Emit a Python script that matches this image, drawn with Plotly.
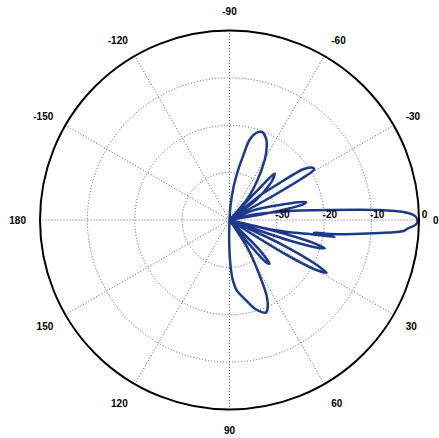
import plotly.graph_objects as go

# Radiation pattern samples: angle (deg) and normalised gain (dB)
theta_deg = [
    -180, -120, -95,
    # broad upper side lobe
    -90, -86, -83, -80, -78.5, -76, -73, -69.5, -65, -62, -59.5, -55, -50, -48,
    # narrow lobe near -46
    -47, -46.5, -46, -44, -41, -37, -35,
    # lobe near -31
    -40.5, -39, -36.5, -34.5, -32.5, -30.8, -29.8, -29, -28,
    # lobe near -13
    -24, -21.8, -16.7, -14.5, -13.2, -12, -11, -10, -9.5,
    # main beam
    -13, -12, -8.5, -5.7, -3.8, -2.6, -1.2, 0.3, 1.5, 2.6, 3.6, 5, 6.4, 8,
    # lobe near 9
    8.5, 9.2, 9.8, 11.5, 13, 14,
    # lobe near 16
    12, 14, 15.5, 16.5, 17.5, 19, 21,
    # lobe near 28
    22, 25, 27, 28.5, 30, 31.5, 34,
    # narrow lobe near 48
    40, 45, 47.5, 49, 51, 53,
    # broad lower side lobe
    53.5, 57, 61, 64, 66.5, 68.5, 71, 74, 79, 84, 87, 89, 91, 95,
    120, 180,
]
gain_db = [
    -40, -40, -40,
    -40, -37, -33, -29, -27, -22.6, -20.8, -20.2, -21.5, -23.4, -25.4, -29.7, -34, -40,
    -40, -29, -26.3, -27, -29, -33, -40,
    -40, -32, -27, -21, -19.4, -19.2, -22.5, -29, -40,
    -40, -34.3, -29, -25, -23.4, -24, -27, -33, -40,
    -40, -34, -27, -18.8, -8.4, -3.2, -0.8, -0.3, -0.7, -2.2, -3.2, -8.3, -13.5, -18.7,
    -22, -17.5, -22, -27, -31, -40,
    -40, -28, -21, -19, -20.5, -27, -40,
    -40, -28, -20, -16.7, -19, -26, -40,
    -40, -31, -27.5, -28, -34, -40,
    -40, -33, -27.5, -22, -19.8, -19, -19.5, -20.5, -23, -25, -27.5, -31, -36, -40,
    -40, -40,
]

angle_ticks = [0, 30, 60, 90, 120, 150, 180, 210, 240, 270, 300, 330]
angle_labels = ["0", "30", "60", "90", "120", "150", "180",
                "-150", "-120", "-90", "-60", "-30"]
radial_ticks = [-30, -20, -10, 0]
radial_labels = ["-30", "-20", "-10", "0"]

label_font = dict(family="Liberation Sans, Arial, sans-serif", size=10,
                  color="black", weight="bold")
pad = "\u00a0" * 4

fig = go.Figure(go.Scatterpolar(
    theta=theta_deg,
    r=gain_db,
    mode="lines",
    line=dict(color="#1d3a8a", width=2.5, shape="spline", smoothing=0.8),
    showlegend=False,
))

fig.update_layout(
    width=439,
    height=438,
    margin=dict(l=40, r=20, t=30, b=28),
    paper_bgcolor="white",
    polar=dict(
        bgcolor="white",
        angularaxis=dict(
            rotation=0,
            direction="clockwise",
            tickmode="array",
            tickvals=angle_ticks,
            ticktext=angle_labels,
            tickfont=label_font,
            ticks="outside",
            ticklen=11,
            tickcolor="rgba(0,0,0,0)",
            showline=True,
            linecolor="black",
            linewidth=2,
            showgrid=True,
            gridcolor="#585a6c",
            griddash="1px,2px",
            gridwidth=1,
        ),
        radialaxis=dict(
            range=[-40, 0],
            angle=0,
            side="counterclockwise",
            tickmode="array",
            tickvals=radial_ticks,
            ticktext=[pad + t for t in radial_labels],
            tickfont=label_font,
            ticks="",
            showline=False,
            showgrid=True,
            gridcolor="#585a6c",
            griddash="1px,2px",
            gridwidth=1,
        ),
    ),
)

fig.write_html("out.html")
